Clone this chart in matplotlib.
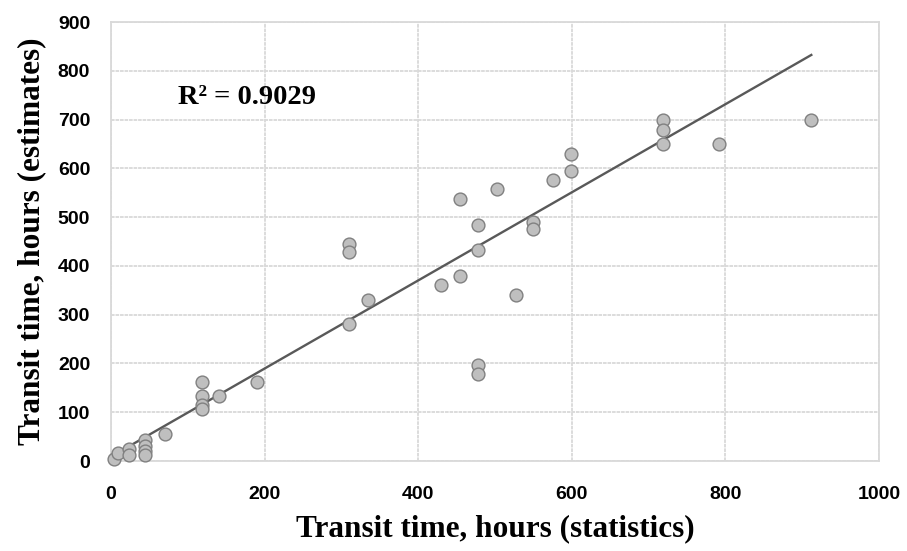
import numpy as np
import matplotlib
matplotlib.use("Agg")
import matplotlib.pyplot as plt

stat_hours = [4, 9.5, 23, 23, 44, 44, 44, 44, 70, 118, 118, 118, 118, 141, 190,
              310, 310, 335, 310,
              599, 599, 575, 503, 455, 478, 550, 550, 478, 455, 430, 527, 478, 478,
              719, 719, 719, 792, 912]
est_hours = [4, 17, 24, 12, 43, 31, 21, 12, 55, 162, 133, 115, 106, 133, 162,
             445, 428, 330, 280,
             629, 595, 577, 558, 537, 484, 491, 475, 432, 380, 361, 340, 197, 178,
             700, 679, 650, 650, 700]
# linear trendline (as displayed in the source chart)
trend_slope = 0.903
trend_intercept = 9.0
r2_label = "R² = 0.9029"
x_label = "Transit time, hours (statistics)"
y_label = "Transit time, hours (estimates)"

fig = plt.figure(figsize=(9.07, 5.51), dpi=100)
ax = fig.add_axes([0.1224, 0.1633, 0.969 - 0.1224, 0.960 - 0.1633])

ax.set_xlim(0, 1000)
ax.set_ylim(0, 900)
ax.set_xticks(range(0, 1001, 200))
ax.set_yticks(range(0, 901, 100))
ax.grid(True, color="#D9D9D9", linewidth=1.3, linestyle=(0, (2, 0.5)))
ax.set_axisbelow(True)
for s in ax.spines.values():
    s.set_color("#D9D9D9")
    s.set_linewidth(1.3)
ax.tick_params(axis="x", length=0, pad=18)
ax.tick_params(axis="y", length=0, pad=15)

x = np.array(stat_hours, dtype=float)
y = np.array(est_hours, dtype=float)
xs = np.array([x.min(), x.max()])
ax.plot(xs, trend_intercept + trend_slope * xs, color="#595959", linewidth=1.7, zorder=2)

ax.scatter(x, y, s=85, facecolor="#BFBFBF", edgecolor="#808080", linewidth=1.0,
           zorder=3, clip_on=False)

for lab in ax.get_xticklabels() + ax.get_yticklabels():
    lab.set_fontfamily(["Liberation Sans Narrow", "Liberation Sans"])
    lab.set_fontweight("bold")
    lab.set_fontsize(14)

serif = ["Liberation Serif", "DejaVu Serif"]
ax.set_xlabel(x_label, family=serif, weight="bold", size=22.5, labelpad=8)
ax.set_ylabel(y_label, family=serif, weight="bold", size=22.5, labelpad=8)
ax.text(87, 746, r2_label, family=serif, weight="bold", size=20.5, va="center", ha="left")

fig.savefig("out.png", dpi=100)
